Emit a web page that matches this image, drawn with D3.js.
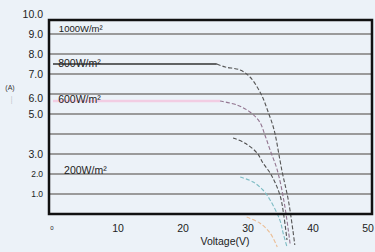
<!DOCTYPE html>
<html>
<head>
<meta charset="utf-8">
<script src="https://cdn.jsdelivr.net/npm/d3@7"></script>
<style>
  html, body { margin: 0; padding: 0; background: #ecf2f8; }
  svg { display: block; font-family: Arial, "Liberation Sans", sans-serif; }
</style>
</head>
<body>
<div id="chart"></div>
<script>
// tick labels
var yTicks = [1, 2, 3, 5, 6, 7, 8, 9, 10];
var gridLines = [1, 2, 3, 4, 5, 6, 7, 8, 9];
var xTicks = [0, 10, 20, 30, 40, 50];

// irradiance labels: [text, voltage, current]
var irrLabels = [["1000W/m²", 0.9, 9.25], ["800W/m²", 0.8, 7.55], ["600W/m²", 0.8, 5.75], ["200W/m²", 1.7, 2.2]];

// I-V curves, [voltage, current]; knee = voltage where solid turns dashed
var curve800 = [[0, 7.5], [25.2, 7.5], [26.5, 7.35], [28.8, 7.2], [30.3, 6.85], [31.5, 6.3], [32.3, 5.8],
  [33.1, 5.1], [33.8, 4.45], [34.2, 3.95], [35.2, 2.2], [36.2, 0.7], [36.9, -0.8], [37.2, -1.55]];
var curve600 = [[0, 5.65], [25.7, 5.65], [28.3, 5.45], [30.3, 5.1], [31.8, 4.6], [32.6, 3.95], [33.4, 3.2],
  [34.5, 2.2], [35.5, 0.7], [36.2, -0.8], [36.5, -1.55]];
var curve400 = [[27.7, 3.8], [29.5, 3.55], [31.4, 3.05], [32.3, 2.55], [33.4, 2.05], [34.2, 1.55],
  [35.0, 0.85], [35.5, -0.05], [36.0, -1.3]];
var curve200 = [[28.8, 1.85], [30.8, 1.6], [32.3, 1.2], [33.4, 0.7], [34.9, -0.3], [35.4, -0.95], [36.0, -1.65]];
var curve100 = [[29.8, -0.15], [31.8, -0.45], [33.4, -0.95], [34.5, -1.65]];

var W = 375, H = 252;

var svg = d3.select("#chart").append("svg")
    .attr("width", W)
    .attr("height", H);

var x = d3.scaleLinear().domain([0, 50]).range([53, 378]);
var y = d3.scaleLinear().domain([0, 10]).range([214, 14]);

var frame = { left: 49, right: 372, top: y(9.7), bottom: y(0) };

// grid
svg.selectAll(".grid").data(gridLines)
    .enter().append("line")
    .attr("x1", frame.left).attr("x2", frame.right)
    .attr("y1", d => y(d)).attr("y2", d => y(d))
    .attr("stroke", "#9a9a9a")
    .attr("stroke-width", 2.2);

function drawCurve(data, knee, solidColor, dashColor, solidWidth) {
    if (knee !== null) {
        svg.append("path")
            .datum(data.filter(d => d[0] <= knee))
            .attr("fill", "none")
            .attr("stroke", solidColor)
            .attr("stroke-width", solidWidth)
            .attr("d", d3.line().x(d => x(d[0])).y(d => y(d[1])));
    }
    var rest = knee === null ? data : data.filter(d => d[0] >= knee);
    svg.append("path")
        .datum(rest)
        .attr("fill", "none")
        .attr("stroke", dashColor)
        .attr("stroke-width", 1.1)
        .attr("stroke-dasharray", "4,2")
        .attr("d", d3.line().x(d => x(d[0])).y(d => y(d[1])).curve(d3.curveCatmullRom));
}

drawCurve(curve100, null, null, "#ebbd94", 1);
drawCurve(curve200, null, null, "#7dbcc4", 1);
drawCurve(curve400, null, null, "#505050", 1);
drawCurve(curve600, 25.7, "#f2cde3", "#927590", 2.5);
drawCurve(curve800, 25.2, "#333333", "#555555", 1.3);

// frame
svg.append("path")
    .attr("d", "M" + frame.left + "," + frame.top + "H" + frame.right + "V" + frame.bottom + "H" + frame.left + "Z")
    .attr("fill", "none")
    .attr("stroke", "#111")
    .attr("stroke-width", 2.5);

// y tick labels
svg.selectAll(".ytick").data(yTicks)
    .enter().append("text")
    .attr("x", 43)
    .attr("y", d => y(d) + (d === 6 ? 4 : 0))
    .attr("dy", "0.35em")
    .attr("text-anchor", "end")
    .attr("font-size", d => d <= 2 ? 8.5 : 10.5)
    .attr("fill", "#222")
    .text(d => d.toFixed(1));

// x tick labels
svg.selectAll(".xtick").data(xTicks)
    .enter().append("text")
    .attr("x", d => Math.min(x(d), 368) - (d === 0 ? 1 : 0))
    .attr("y", 228)
    .attr("dy", "0.35em")
    .attr("text-anchor", "middle")
    .attr("font-size", d => d === 0 ? 6 : 10.5)
    .attr("fill", "#222")
    .text(d => d);

// axis titles
svg.append("text")
    .attr("x", 225).attr("y", 241)
    .attr("dy", "0.35em")
    .attr("text-anchor", "middle")
    .attr("font-size", 10.5)
    .attr("fill", "#222")
    .text("Voltage(V)");

svg.append("text")
    .attr("x", 10).attr("y", 88)
    .attr("dy", "0.35em")
    .attr("text-anchor", "middle")
    .attr("font-size", 7)
    .attr("fill", "#333")
    .text("(A)");

svg.append("text")
    .attr("transform", "translate(10,100) rotate(-90)")
    .attr("dy", "0.35em")
    .attr("text-anchor", "middle")
    .attr("font-size", 7)
    .attr("fill", "#888")
    .text("....");

// irradiance labels
svg.selectAll(".irr").data(irrLabels)
    .enter().append("text")
    .attr("x", d => x(d[1]))
    .attr("y", d => y(d[2]))
    .attr("dy", "0.35em")
    .attr("font-size", (d, i) => i === 0 ? 9.5 : 10.5)
    .attr("fill", "#222")
    .text(d => d[0]);
</script>
</body>
</html>
